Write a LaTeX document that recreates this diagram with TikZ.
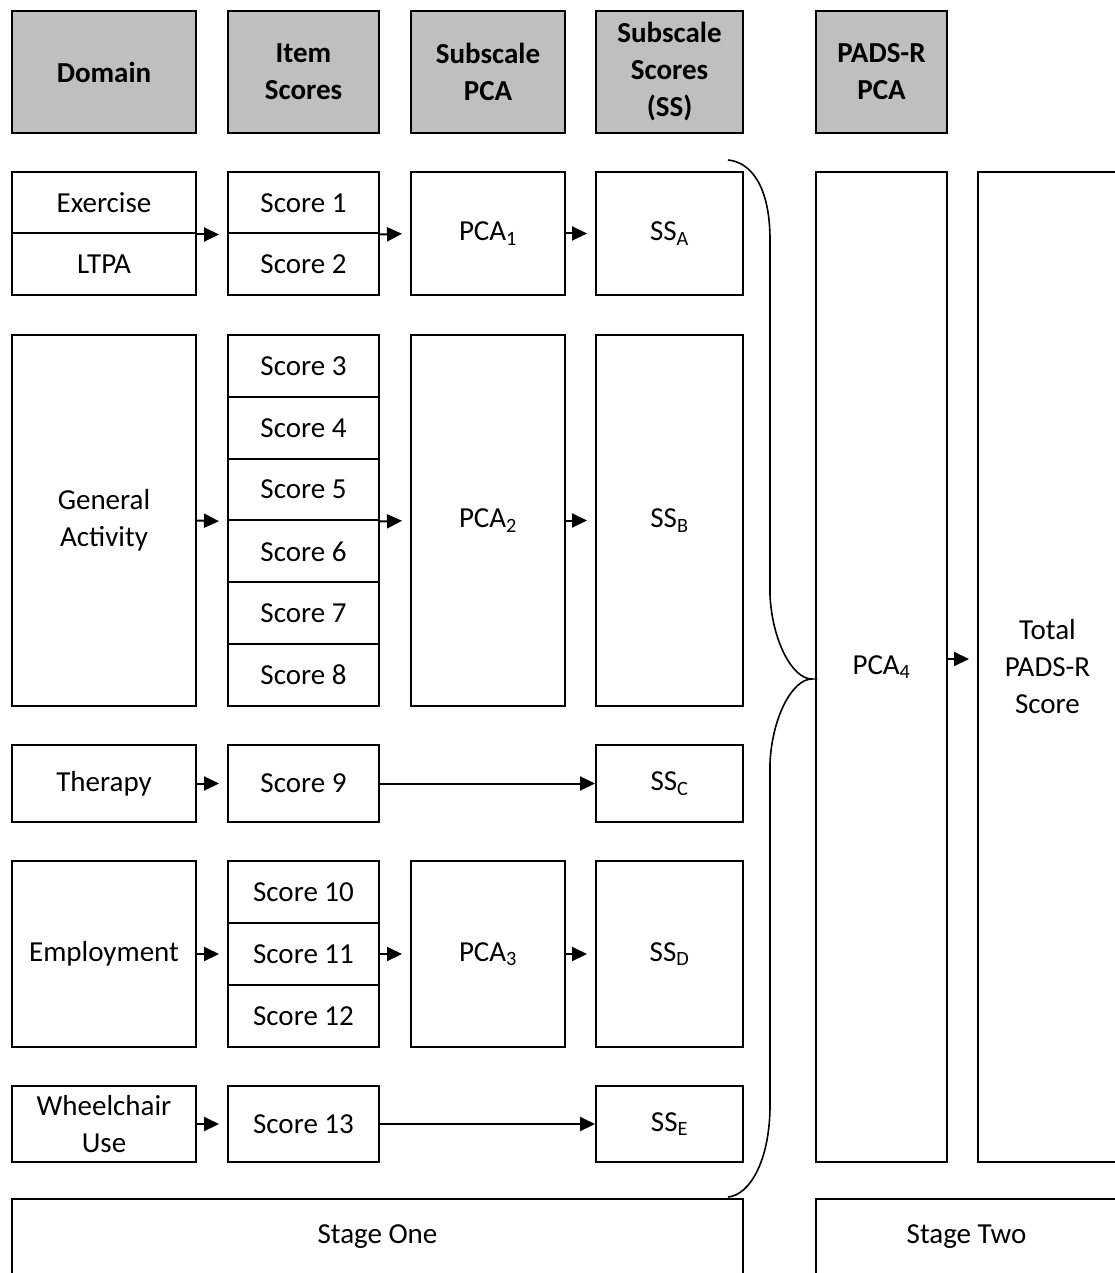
\documentclass[tikz,border=0pt]{standalone}
\usepackage{fontspec}
\setmainfont{Carlito}
\usetikzlibrary{arrows.meta}
\definecolor{hdrgray}{RGB}{191,191,191}
\begin{document}
\begin{tikzpicture}[x=1pt,y=-1pt,
  box/.style={draw, line width=2pt, inner sep=0pt, align=center,
    font=\fontsize{29}{37}\selectfont},
  hdr/.style={box, fill=hdrgray, font=\fontsize{29}{37}\selectfont\bfseries,
    minimum height=122},
  dom/.style={box, minimum width=184},
  item/.style={box, minimum width=151},
  pca/.style={box, minimum width=154},
  sub/.style={box, minimum width=147},
  arr/.style={line width=2pt, -{Triangle[length=15pt,width=14pt]}, shorten >=8pt},
  longarr/.style={line width=2pt, -{Triangle[length=15pt,width=14pt]}},
]
\clip (0,0) rectangle (1115,1273);
\fill[white] (0,0) rectangle (1115,1273);

% column headers
\node[hdr, minimum width=184] (hdom)  at (104,72)   {Domain};
\node[hdr, minimum width=151] (hitem) at (303.5,72) {Item\\Scores};
\node[hdr, minimum width=154] (hpca)  at (488,72)   {Subscale\\PCA};
\node[hdr, minimum width=147] (hss)   at (669.5,72) {Subscale\\Scores\\(SS)};
\node[hdr, minimum width=131] (hpads) at (881.5,72) {PADS-R\\PCA};

% exercise / LTPA
\node[dom, minimum height=61.5] (ex)   at (104,202.75) {Exercise};
\node[dom, minimum height=61.5] (ltpa) at (104,264.25) {LTPA};
\node[item, minimum height=61.5] (s1)  at (303.5,202.75) {Score 1};
\node[item, minimum height=61.5] (s2)  at (303.5,264.25) {Score 2};
\node[pca, minimum height=123] (pca1)  at (488,233.5) {PCA\textsubscript{1}};
\node[sub, minimum height=123] (ssa)   at (669.5,233.5) {SS\textsubscript{A}};

% general activity
\node[dom, minimum height=371] (ga) at (104,520.5) {General\\Activity};
\foreach \n [count=\k from 0] in {3,...,8}
  \node[item, minimum height=61.83] (s\n) at (303.5,{365.92+61.83*\k}) {Score \n};
\node[pca, minimum height=371] (pca2) at (488,520.5) {PCA\textsubscript{2}};
\node[sub, minimum height=371] (ssb)  at (669.5,520.5) {SS\textsubscript{B}};

% therapy
\node[dom, minimum height=77]  (ther) at (104,783.5)   {Therapy};
\node[item, minimum height=77] (s9)   at (303.5,783.5) {Score 9};
\node[sub, minimum height=77]  (ssc)  at (669.5,783.5) {SS\textsubscript{C}};

% employment
\node[dom, minimum height=186] (emp) at (104,954) {Employment};
\node[item, minimum height=62] (s10) at (303.5,892)  {Score 10};
\node[item, minimum height=62] (s11) at (303.5,954)  {Score 11};
\node[item, minimum height=62] (s12) at (303.5,1016) {Score 12};
\node[pca, minimum height=186] (pca3) at (488,954)   {PCA\textsubscript{3}};
\node[sub, minimum height=186] (ssd)  at (669.5,954) {SS\textsubscript{D}};

% wheelchair use
\node[dom, minimum height=76]  (wc)  at (104,1124)   {Wheelchair\\Use};
\node[item, minimum height=76] (s13) at (303.5,1124) {Score 13};
\node[sub, minimum height=76]  (sse) at (669.5,1124) {SS\textsubscript{E}};

% stage two columns
\node[box, minimum width=131, minimum height=990] (pca4)  at (881.5,667)  {PCA\textsubscript{4}};
\node[box, minimum width=139, minimum height=990] (total) at (1047.5,667) {Total\\PADS-R\\Score};

% stage labels
\node[box, minimum width=731, minimum height=76] (stage1) at (377.5,1237) {Stage One};
\node[box, minimum width=301, minimum height=76] (stage2) at (966.5,1237) {Stage Two};

% connectors
\draw[arr] (ex.south east) -- (s1.south west);
\draw[arr] (s1.south east) -- (pca1.west);
\draw[arr] (pca1.east) -- (ssa.west);

\draw[arr] (ga.east) -- (s5.south west);
\draw[arr] (s5.south east) -- (pca2.west);
\draw[arr] (pca2.east) -- (ssb.west);

\draw[arr] (ther.east) -- (s9.west);
\draw[longarr] (s9.east) -- (ssc.west);

\draw[arr] (emp.east) -- (s11.west);
\draw[arr] (s11.east) -- (pca3.west);
\draw[arr] (pca3.east) -- (ssd.west);

\draw[arr] (wc.east) -- (s13.west);
\draw[longarr] (s13.east) -- (sse.west);

\draw[arr] ([yshift=8pt]pca4.east) -- ([yshift=8pt]total.west);

% brace gathering the subscale scores
\draw[line width=1.6pt]
  (728,160) .. controls (750,162) and (770,185) .. (770,240)
  -- (770,595)
  .. controls (772,640) and (792,679) .. (812,679)
  .. controls (792,679) and (772,718) .. (770,763)
  -- (770,1105)
  .. controls (770,1160) and (750,1195) .. (728,1197);
\end{tikzpicture}
\end{document}
